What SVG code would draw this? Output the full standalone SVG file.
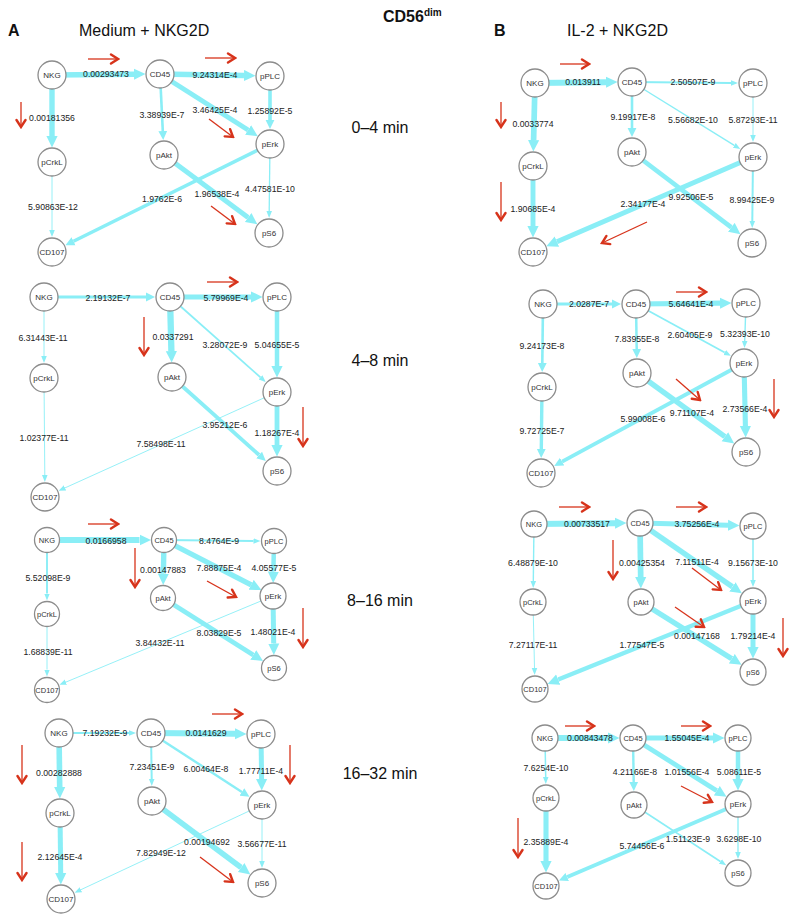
<svg xmlns="http://www.w3.org/2000/svg" width="800" height="923" viewBox="0 0 800 923">
<style>
.e line{stroke:#8aeef6;fill:none}
.t{marker-end:url(#at)}
.m{marker-end:url(#am)}
.k{marker-end:url(#ak)}
.n circle{fill:#fff;stroke:#8c8c8c;stroke-width:1.3}
.n text{font-family:"Liberation Sans",Arial,sans-serif;font-size:8px;fill:#333;text-anchor:middle}
.s text{font-size:7.5px}
.lb text{font-family:"Liberation Sans",Arial,sans-serif;font-size:8.7px;fill:#222;text-anchor:middle}
.r line{stroke:#d7331b;stroke-width:1.3;marker-end:url(#ra)}
.ttl{font-family:"Liberation Sans",Arial,sans-serif;font-size:16px;fill:#111}
.bold{font-weight:bold}
.tm{font-family:"Liberation Sans",Arial,sans-serif;font-size:16px;fill:#111;text-anchor:middle}
</style>
<defs>
<marker id="at" markerUnits="userSpaceOnUse" viewBox="0 -4 8 8" markerWidth="8" markerHeight="8" refX="0" refY="0" orient="auto"><path d="M0,-2.8 L7,0 L0,2.8 z" fill="#8aeef6"/></marker>
<marker id="am" markerUnits="userSpaceOnUse" viewBox="0 -5 10 10" markerWidth="10" markerHeight="10" refX="0" refY="0" orient="auto"><path d="M0,-4.4 L9,0 L0,4.4 z" fill="#8aeef6"/></marker>
<marker id="ak" markerUnits="userSpaceOnUse" viewBox="0 -6 12 12" markerWidth="12" markerHeight="12" refX="0" refY="0" orient="auto"><path d="M0,-5.6 L11.5,0 L0,5.6 z" fill="#8aeef6"/></marker>
<marker id="ra" markerUnits="userSpaceOnUse" viewBox="-9 -6 11 12" markerWidth="11" markerHeight="12" refX="0" refY="0" orient="auto"><path d="M-7,-4.5 L0,0 L-7,4.5" fill="none" stroke="#d7331b" stroke-width="2.4" stroke-linecap="round"/></marker>
</defs>
<rect width="800" height="923" fill="#fff"/>

<g id="titles">
<text class="ttl bold" x="8" y="36" font-size="15">A</text>
<text class="ttl" x="79" y="36">Medium + NKG2D</text>
<text class="ttl bold" x="494" y="36" font-size="15">B</text>
<text class="ttl" x="567" y="36">IL-2 + NKG2D</text>
<text class="ttl bold" x="383" y="22" font-size="15">CD56<tspan font-size="10" dy="-6">dim</tspan></text>
<text class="tm" x="380" y="133">0–4 min</text>
<text class="tm" x="380" y="366">4–8 min</text>
<text class="tm" x="380" y="606">8–16 min</text>
<text class="tm" x="380" y="779">16–32 min</text>
</g>

<g id="connectors" class="e">
<line x1="52" y1="75" x2="134" y2="74.2" stroke-width="5.6" class="k"/>
<line x1="160" y1="74" x2="244" y2="75.5" stroke-width="5.3" class="k"/>
<line x1="52" y1="75" x2="52" y2="136" stroke-width="5.4" class="k"/>
<line x1="160" y1="74" x2="162.8" y2="131" stroke-width="2.6" class="m"/>
<line x1="160" y1="74" x2="248.1" y2="130" stroke-width="5" class="k"/>
<line x1="270" y1="76" x2="270" y2="120" stroke-width="3.6" class="m"/>
<line x1="52" y1="162" x2="52" y2="230" stroke-width="0.9" class="t"/>
<line x1="270" y1="144" x2="73.5" y2="241.3" stroke-width="3.5" class="m"/>
<line x1="164" y1="155" x2="248.1" y2="217.5" stroke-width="4.9" class="k"/>
<line x1="270" y1="144" x2="269.2" y2="211" stroke-width="1.3" class="t"/>

<line x1="535" y1="83" x2="606" y2="82.2" stroke-width="6" class="k"/>
<line x1="632" y1="82" x2="731" y2="83" stroke-width="1.8" class="t"/>
<line x1="535" y1="83" x2="533.6" y2="140" stroke-width="5.7" class="k"/>
<line x1="632" y1="82" x2="632" y2="128" stroke-width="2.6" class="m"/>
<line x1="632" y1="82" x2="734.3" y2="145.4" stroke-width="1.4" class="t"/>
<line x1="753" y1="83" x2="753" y2="135" stroke-width="0.9" class="t"/>
<line x1="533" y1="166" x2="533" y2="226" stroke-width="4.9" class="k"/>
<line x1="753" y1="157" x2="556.9" y2="241.7" stroke-width="5" class="k"/>
<line x1="632" y1="152" x2="731.3" y2="227.3" stroke-width="4.7" class="k"/>
<line x1="753" y1="157" x2="752.3" y2="221" stroke-width="2" class="t"/>

<line x1="44" y1="297" x2="146" y2="297" stroke-width="3" class="m"/>
<line x1="170" y1="297" x2="251" y2="297" stroke-width="5.2" class="k"/>
<line x1="44" y1="297" x2="44" y2="356" stroke-width="0.9" class="t"/>
<line x1="170" y1="297" x2="171.4" y2="351" stroke-width="6.3" class="k"/>
<line x1="170" y1="297" x2="260.5" y2="377.4" stroke-width="1.8" class="t"/>
<line x1="277" y1="297" x2="277" y2="366" stroke-width="4.5" class="k"/>
<line x1="44" y1="378" x2="44.8" y2="475" stroke-width="0.9" class="t"/>
<line x1="277" y1="392" x2="65" y2="487.9" stroke-width="0.9" class="t"/>
<line x1="172" y1="377" x2="259.1" y2="455" stroke-width="3.8" class="m"/>
<line x1="277" y1="392" x2="277" y2="445" stroke-width="4.8" class="k"/>

<line x1="543" y1="304" x2="612" y2="304" stroke-width="3" class="m"/>
<line x1="636" y1="304" x2="720" y2="303.2" stroke-width="5.2" class="k"/>
<line x1="543" y1="304" x2="542.3" y2="363" stroke-width="2.6" class="m"/>
<line x1="636" y1="304" x2="636.7" y2="349" stroke-width="2.5" class="m"/>
<line x1="636" y1="304" x2="724.7" y2="352.5" stroke-width="1.8" class="t"/>
<line x1="746" y1="303" x2="744.7" y2="341" stroke-width="1.4" class="t"/>
<line x1="542" y1="387" x2="541.3" y2="449" stroke-width="3.4" class="m"/>
<line x1="744" y1="363" x2="562.1" y2="461.6" stroke-width="3.9" class="m"/>
<line x1="637" y1="373" x2="724.9" y2="436.7" stroke-width="5.3" class="k"/>
<line x1="744" y1="363" x2="745.4" y2="426" stroke-width="5.1" class="k"/>

<line x1="47" y1="540" x2="139.5" y2="540" stroke-width="6.1" class="k"/>
<line x1="164" y1="540" x2="253.5" y2="541" stroke-width="2" class="t"/>
<line x1="47" y1="540" x2="47" y2="593.5" stroke-width="1.9" class="t"/>
<line x1="164" y1="540" x2="163.4" y2="573.5" stroke-width="5.4" class="k"/>
<line x1="164" y1="540" x2="251.2" y2="584.8" stroke-width="5.3" class="k"/>
<line x1="274" y1="541" x2="273.4" y2="571.5" stroke-width="4.5" class="k"/>
<line x1="47" y1="614" x2="47" y2="669.5" stroke-width="0.9" class="t"/>
<line x1="273" y1="596" x2="65.9" y2="682.1" stroke-width="0.9" class="t"/>
<line x1="163" y1="598" x2="253.3" y2="654.9" stroke-width="4.7" class="k"/>
<line x1="273" y1="596" x2="273.7" y2="643.5" stroke-width="5" class="k"/>

<line x1="534" y1="524" x2="615" y2="523.2" stroke-width="5.9" class="k"/>
<line x1="640" y1="523" x2="728" y2="525.3" stroke-width="5.1" class="k"/>
<line x1="534" y1="524" x2="533.3" y2="581" stroke-width="1.4" class="t"/>
<line x1="640" y1="523" x2="640.7" y2="577" stroke-width="5.7" class="k"/>
<line x1="640" y1="523" x2="732.4" y2="586.8" stroke-width="5.3" class="k"/>
<line x1="753" y1="526" x2="753" y2="580" stroke-width="1.5" class="t"/>
<line x1="533" y1="602" x2="534.5" y2="668" stroke-width="0.9" class="t"/>
<line x1="753" y1="601" x2="558.2" y2="679.6" stroke-width="4.3" class="k"/>
<line x1="641" y1="602" x2="731.8" y2="658.7" stroke-width="5.4" class="k"/>
<line x1="753" y1="601" x2="753" y2="647" stroke-width="5" class="k"/>

<line x1="59" y1="733" x2="129" y2="733" stroke-width="2" class="t"/>
<line x1="151" y1="733" x2="235" y2="733.8" stroke-width="6" class="k"/>
<line x1="59" y1="733" x2="59.7" y2="787" stroke-width="5.6" class="k"/>
<line x1="151" y1="733" x2="151.7" y2="779" stroke-width="2" class="t"/>
<line x1="151" y1="733" x2="241.9" y2="791.9" stroke-width="2.4" class="m"/>
<line x1="261" y1="734" x2="261.6" y2="779" stroke-width="5" class="k"/>
<line x1="60" y1="813" x2="60.7" y2="873" stroke-width="5" class="k"/>
<line x1="262" y1="805" x2="80.9" y2="889.7" stroke-width="0.9" class="t"/>
<line x1="152" y1="801" x2="241.1" y2="867.5" stroke-width="5.5" class="k"/>
<line x1="262" y1="805" x2="262" y2="861" stroke-width="0.9" class="t"/>

<line x1="545" y1="738" x2="608" y2="738" stroke-width="6" class="k"/>
<line x1="633" y1="738" x2="713" y2="738" stroke-width="5" class="k"/>
<line x1="545" y1="738" x2="545.7" y2="777" stroke-width="1.5" class="t"/>
<line x1="633" y1="738" x2="633.7" y2="782" stroke-width="2.4" class="m"/>
<line x1="633" y1="738" x2="716.8" y2="790.7" stroke-width="4.8" class="k"/>
<line x1="738" y1="738" x2="738" y2="779" stroke-width="4.5" class="k"/>
<line x1="546" y1="798" x2="546" y2="861" stroke-width="5.1" class="k"/>
<line x1="738" y1="804" x2="567.2" y2="877" stroke-width="3.9" class="m"/>
<line x1="634" y1="805" x2="720.4" y2="861.5" stroke-width="1.6" class="t"/>
<line x1="738" y1="804" x2="738" y2="852" stroke-width="1.3" class="t"/>
</g>

<g id="change-arrows" class="r">
<line x1="88" y1="59" x2="118" y2="59"/>
<line x1="205" y1="58" x2="235" y2="58"/>
<line x1="21" y1="102" x2="21" y2="127"/>
<line x1="209" y1="119" x2="233" y2="137"/>
<line x1="211" y1="206" x2="235" y2="224"/>
<line x1="560" y1="64" x2="589" y2="64"/>
<line x1="501" y1="102" x2="501" y2="127"/>
<line x1="501" y1="182" x2="501" y2="220"/>
<line x1="647" y1="222" x2="602" y2="243"/>
<line x1="207" y1="282" x2="237" y2="282"/>
<line x1="144" y1="317" x2="144" y2="355"/>
<line x1="303" y1="407" x2="303" y2="446"/>
<line x1="676" y1="292" x2="706" y2="292"/>
<line x1="676" y1="379" x2="700" y2="400"/>
<line x1="774" y1="379" x2="774" y2="417"/>
<line x1="88" y1="524" x2="118" y2="524"/>
<line x1="135" y1="548" x2="135" y2="587"/>
<line x1="207" y1="581" x2="236" y2="597"/>
<line x1="303" y1="608" x2="303" y2="647"/>
<line x1="559" y1="507" x2="589" y2="507"/>
<line x1="676" y1="507" x2="706" y2="507"/>
<line x1="613" y1="540" x2="613" y2="579"/>
<line x1="692" y1="568" x2="721" y2="590"/>
<line x1="675" y1="607" x2="704" y2="627"/>
<line x1="783" y1="618" x2="783" y2="656"/>
<line x1="212" y1="714" x2="242" y2="714"/>
<line x1="22" y1="745" x2="22" y2="783"/>
<line x1="290" y1="745" x2="290" y2="783"/>
<line x1="22" y1="842" x2="22" y2="880"/>
<line x1="200" y1="857" x2="233" y2="882"/>
<line x1="565" y1="726" x2="594" y2="726"/>
<line x1="681" y1="726" x2="710" y2="726"/>
<line x1="518" y1="818" x2="518" y2="857"/>
<line x1="681" y1="786" x2="712" y2="802"/>
</g>

<g id="a1-nkg" class="n"><circle cx="52" cy="75" r="14"/><text x="52" y="78">NKG</text></g>
<g id="a1-cd45" class="n"><circle cx="160" cy="74" r="14"/><text x="160" y="77">CD45</text></g>
<g id="a1-pplc" class="n"><circle cx="270" cy="76" r="14"/><text x="270" y="79">pPLC</text></g>
<g id="a1-perk" class="n"><circle cx="270" cy="144" r="14"/><text x="270" y="147">pErk</text></g>
<g id="a1-pakt" class="n"><circle cx="164" cy="155" r="14"/><text x="164" y="158">pAkt</text></g>
<g id="a1-pcrkl" class="n"><circle cx="52" cy="162" r="14"/><text x="52" y="165">pCrkL</text></g>
<g id="a1-ps6" class="n"><circle cx="269" cy="233" r="14"/><text x="269" y="236">pS6</text></g>
<g id="a1-cd107" class="n"><circle cx="52" cy="252" r="14"/><text x="52" y="255">CD107</text></g>

<g id="b1-nkg" class="n"><circle cx="535" cy="83" r="14"/><text x="535" y="86">NKG</text></g>
<g id="b1-cd45" class="n"><circle cx="632" cy="82" r="14"/><text x="632" y="85">CD45</text></g>
<g id="b1-pplc" class="n"><circle cx="753" cy="83" r="14"/><text x="753" y="86">pPLC</text></g>
<g id="b1-perk" class="n"><circle cx="753" cy="157" r="14"/><text x="753" y="160">pErk</text></g>
<g id="b1-pakt" class="n"><circle cx="632" cy="152" r="14"/><text x="632" y="155">pAkt</text></g>
<g id="b1-pcrkl" class="n"><circle cx="533" cy="166" r="14"/><text x="533" y="169">pCrkL</text></g>
<g id="b1-ps6" class="n"><circle cx="752" cy="243" r="14"/><text x="752" y="246">pS6</text></g>
<g id="b1-cd107" class="n"><circle cx="533" cy="252" r="14"/><text x="533" y="255">CD107</text></g>

<g id="a2-nkg" class="n"><circle cx="44" cy="297" r="14"/><text x="44" y="300">NKG</text></g>
<g id="a2-cd45" class="n"><circle cx="170" cy="297" r="14"/><text x="170" y="300">CD45</text></g>
<g id="a2-pplc" class="n"><circle cx="277" cy="297" r="14"/><text x="277" y="300">pPLC</text></g>
<g id="a2-perk" class="n"><circle cx="277" cy="392" r="14"/><text x="277" y="395">pErk</text></g>
<g id="a2-pakt" class="n"><circle cx="172" cy="377" r="14"/><text x="172" y="380">pAkt</text></g>
<g id="a2-pcrkl" class="n"><circle cx="44" cy="378" r="14"/><text x="44" y="381">pCrkL</text></g>
<g id="a2-ps6" class="n"><circle cx="277" cy="471" r="14"/><text x="277" y="474">pS6</text></g>
<g id="a2-cd107" class="n"><circle cx="45" cy="497" r="14"/><text x="45" y="500">CD107</text></g>

<g id="b2-nkg" class="n"><circle cx="543" cy="304" r="14"/><text x="543" y="307">NKG</text></g>
<g id="b2-cd45" class="n"><circle cx="636" cy="304" r="14"/><text x="636" y="307">CD45</text></g>
<g id="b2-pplc" class="n"><circle cx="746" cy="303" r="14"/><text x="746" y="306">pPLC</text></g>
<g id="b2-perk" class="n"><circle cx="744" cy="363" r="14"/><text x="744" y="366">pErk</text></g>
<g id="b2-pakt" class="n"><circle cx="637" cy="373" r="14"/><text x="637" y="376">pAkt</text></g>
<g id="b2-pcrkl" class="n"><circle cx="542" cy="387" r="14"/><text x="542" y="390">pCrkL</text></g>
<g id="b2-ps6" class="n"><circle cx="746" cy="452" r="14"/><text x="746" y="455">pS6</text></g>
<g id="b2-cd107" class="n"><circle cx="541" cy="473" r="14"/><text x="541" y="476">CD107</text></g>

<g id="a3-nkg" class="n s"><circle cx="47" cy="540" r="12.5"/><text x="47" y="543">NKG</text></g>
<g id="a3-cd45" class="n s"><circle cx="164" cy="540" r="12.5"/><text x="164" y="543">CD45</text></g>
<g id="a3-pplc" class="n s"><circle cx="274" cy="541" r="12.5"/><text x="274" y="544">pPLC</text></g>
<g id="a3-perk" class="n"><circle cx="273" cy="596" r="13"/><text x="273" y="599">pErk</text></g>
<g id="a3-pakt" class="n s"><circle cx="163" cy="598" r="12.5"/><text x="163" y="601">pAkt</text></g>
<g id="a3-pcrkl" class="n s"><circle cx="47" cy="614" r="12.5"/><text x="47" y="617">pCrkL</text></g>
<g id="a3-ps6" class="n s"><circle cx="274" cy="668" r="12.5"/><text x="274" y="671">pS6</text></g>
<g id="a3-cd107" class="n s"><circle cx="47" cy="690" r="12.5"/><text x="47" y="693">CD107</text></g>

<g id="b3-nkg" class="n s"><circle cx="534" cy="524" r="13"/><text x="534" y="527">NKG</text></g>
<g id="b3-cd45" class="n s"><circle cx="640" cy="523" r="13"/><text x="640" y="526">CD45</text></g>
<g id="b3-pplc" class="n s"><circle cx="753" cy="526" r="13"/><text x="753" y="529">pPLC</text></g>
<g id="b3-perk" class="n"><circle cx="753" cy="601" r="13"/><text x="753" y="604">pErk</text></g>
<g id="b3-pakt" class="n s"><circle cx="641" cy="602" r="13"/><text x="641" y="605">pAkt</text></g>
<g id="b3-pcrkl" class="n s"><circle cx="533" cy="602" r="13"/><text x="533" y="605">pCrkL</text></g>
<g id="b3-ps6" class="n s"><circle cx="753" cy="672" r="13"/><text x="753" y="675">pS6</text></g>
<g id="b3-cd107" class="n s"><circle cx="535" cy="689" r="13"/><text x="535" y="692">CD107</text></g>

<g id="a4-nkg" class="n"><circle cx="59" cy="733" r="14"/><text x="59" y="736">NKG</text></g>
<g id="a4-cd45" class="n"><circle cx="151" cy="733" r="14"/><text x="151" y="736">CD45</text></g>
<g id="a4-pplc" class="n"><circle cx="261" cy="734" r="14"/><text x="261" y="737">pPLC</text></g>
<g id="a4-perk" class="n"><circle cx="262" cy="805" r="14"/><text x="262" y="808">pErk</text></g>
<g id="a4-pakt" class="n"><circle cx="152" cy="801" r="14"/><text x="152" y="804">pAkt</text></g>
<g id="a4-pcrkl" class="n"><circle cx="60" cy="813" r="14"/><text x="60" y="816">pCrkL</text></g>
<g id="a4-ps6" class="n"><circle cx="262" cy="883" r="14"/><text x="262" y="886">pS6</text></g>
<g id="a4-cd107" class="n"><circle cx="61" cy="899" r="14"/><text x="61" y="902">CD107</text></g>

<g id="b4-nkg" class="n s"><circle cx="545" cy="738" r="13"/><text x="545" y="741">NKG</text></g>
<g id="b4-cd45" class="n s"><circle cx="633" cy="738" r="13"/><text x="633" y="741">CD45</text></g>
<g id="b4-pplc" class="n s"><circle cx="738" cy="738" r="13"/><text x="738" y="741">pPLC</text></g>
<g id="b4-perk" class="n"><circle cx="738" cy="804" r="13"/><text x="738" y="807">pErk</text></g>
<g id="b4-pakt" class="n s"><circle cx="634" cy="805" r="13"/><text x="634" y="808">pAkt</text></g>
<g id="b4-pcrkl" class="n s"><circle cx="546" cy="798" r="13"/><text x="546" y="801">pCrkL</text></g>
<g id="b4-ps6" class="n s"><circle cx="738" cy="873" r="13"/><text x="738" y="876">pS6</text></g>
<g id="b4-cd107" class="n s"><circle cx="546" cy="886" r="13"/><text x="546" y="889">CD107</text></g>

<g id="edge-labels" class="lb">
<text x="106" y="77">0.00293473</text>
<text x="215" y="78">9.24314E-4</text>
<text x="52" y="121">0.00181356</text>
<text x="162" y="118">3.38939E-7</text>
<text x="215" y="113">3.46425E-4</text>
<text x="270" y="114">1.25892E-5</text>
<text x="53" y="210">5.90863E-12</text>
<text x="162" y="202">1.9762E-6</text>
<text x="217" y="197">1.96538E-4</text>
<text x="270" y="192">4.47581E-10</text>

<text x="583" y="85">0.013911</text>
<text x="693" y="85">2.50507E-9</text>
<text x="533" y="127">0.0033774</text>
<text x="633" y="120">9.19917E-8</text>
<text x="693" y="123">5.56682E-10</text>
<text x="753" y="123">5.87293E-11</text>
<text x="533" y="212">1.90685E-4</text>
<text x="643" y="207">2.34177E-4</text>
<text x="691" y="200">9.92506E-5</text>
<text x="752" y="203">8.99425E-9</text>

<text x="108" y="301">2.19132E-7</text>
<text x="226" y="301">5.79969E-4</text>
<text x="43" y="341">6.31443E-11</text>
<text x="173" y="340">0.0337291</text>
<text x="225" y="348">3.28072E-9</text>
<text x="277" y="348">5.04655E-5</text>
<text x="44" y="441">1.02377E-11</text>
<text x="161" y="447">7.58498E-11</text>
<text x="225" y="428">3.95212E-6</text>
<text x="277" y="436">1.18267E-4</text>

<text x="589" y="307">2.0287E-7</text>
<text x="691" y="307">5.64641E-4</text>
<text x="542" y="349">9.24173E-8</text>
<text x="637" y="342">7.83955E-8</text>
<text x="690" y="338">2.60405E-9</text>
<text x="745" y="337">5.32393E-10</text>
<text x="542" y="434">9.72725E-7</text>
<text x="643" y="422">5.99008E-6</text>
<text x="692" y="416">9.71107E-4</text>
<text x="745" y="412">2.73566E-4</text>

<text x="106" y="544">0.0166958</text>
<text x="219" y="544">8.4764E-9</text>
<text x="48" y="581">5.52098E-9</text>
<text x="163" y="573">0.00147883</text>
<text x="219" y="571">7.88875E-4</text>
<text x="274" y="571">4.05577E-5</text>
<text x="48" y="655">1.68839E-11</text>
<text x="160" y="646">3.84432E-11</text>
<text x="219" y="636">8.03829E-5</text>
<text x="273" y="635">1.48021E-4</text>

<text x="587" y="527">0.00733517</text>
<text x="697" y="527">3.75256E-4</text>
<text x="533" y="566">6.48879E-10</text>
<text x="642" y="566">0.00425354</text>
<text x="697" y="565">7.11511E-4</text>
<text x="753" y="566">9.15673E-10</text>
<text x="533" y="648">7.27117E-11</text>
<text x="642" y="648">1.77547E-5</text>
<text x="697" y="639">0.00147168</text>
<text x="753" y="639">1.79214E-4</text>

<text x="105" y="736">7.19232E-9</text>
<text x="206" y="736">0.0141629</text>
<text x="59" y="776">0.00282888</text>
<text x="152" y="770">7.23451E-9</text>
<text x="206" y="772">6.00464E-8</text>
<text x="261" y="774">1.77711E-4</text>
<text x="60" y="860">2.12645E-4</text>
<text x="161" y="856">7.82949E-12</text>
<text x="207" y="845">0.00194692</text>
<text x="262" y="847">3.56677E-11</text>

<text x="590" y="741">0.00843478</text>
<text x="687" y="741">1.55045E-4</text>
<text x="546" y="771">7.6254E-10</text>
<text x="635" y="775">4.21166E-8</text>
<text x="687" y="775">1.01556E-4</text>
<text x="739" y="775">5.08611E-5</text>
<text x="546" y="845">2.35889E-4</text>
<text x="642" y="849">5.74456E-6</text>
<text x="688" y="842">1.51123E-9</text>
<text x="739" y="842">3.6298E-10</text>
</g>
</svg>
